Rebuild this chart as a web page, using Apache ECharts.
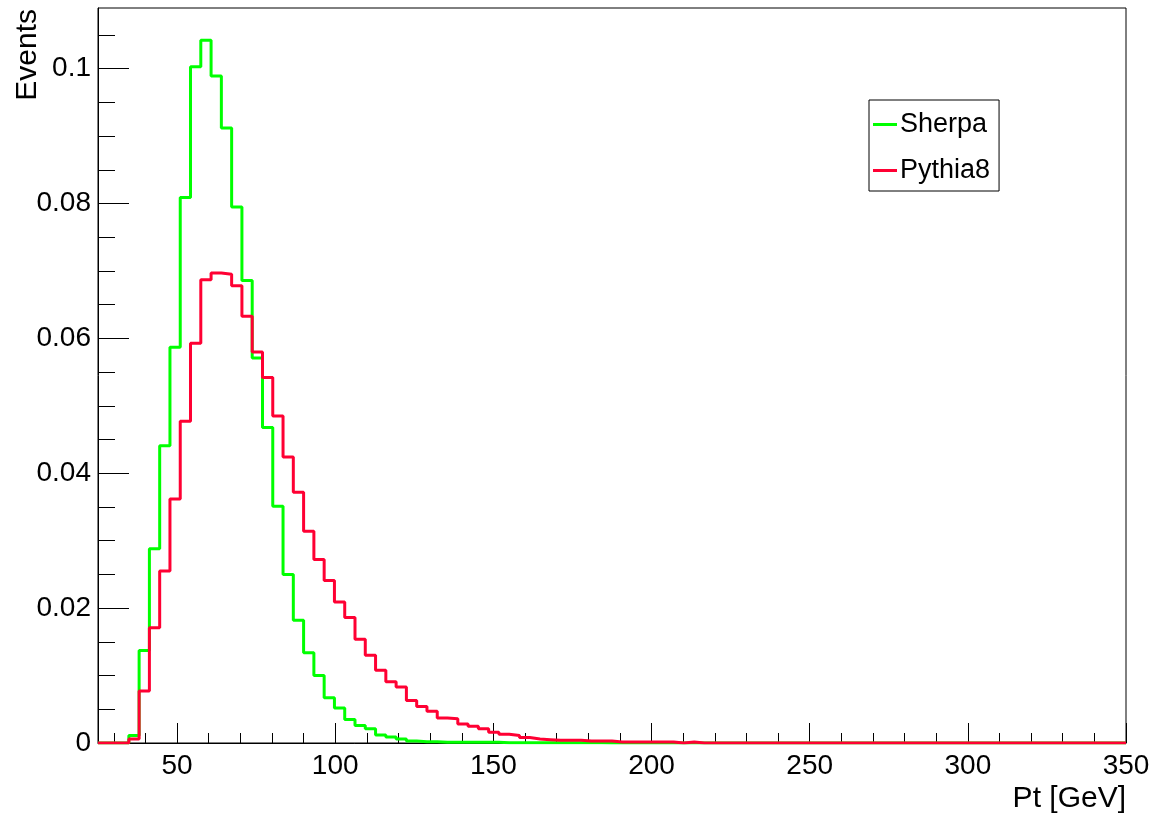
<!DOCTYPE html>
<html>
<head>
<meta charset="utf-8">
<script src="https://cdn.jsdelivr.net/npm/echarts@6/dist/echarts.min.js"></script>
<style>
html, body { margin: 0; padding: 0; background: #fff; }
#chart { width: 1157px; height: 818px; }
</style>
</head>
<body>
<div id="chart"></div>
<script>
// Histogram binning (100 bins from 25 to 350 GeV)
const xMin = 25;
const xMax = 350;
const binWidth = 3.25;

// Bin contents (bin 0 starts at 25 GeV)
const sherpa = [
  0, 0, 0, 0.0011, 0.0137, 0.0288, 0.0441, 0.0587, 0.0809, 0.1003,
  0.1042, 0.0989, 0.0912, 0.0795, 0.0686, 0.0571, 0.0468, 0.0351, 0.0250, 0.0182,
  0.0134, 0.0100, 0.0067, 0.0052, 0.0035, 0.0026, 0.0021, 0.0012, 0.0009, 0.0006,
  0.0003, 0.0002, 0.0002, 0.0001, 0.0001, 0.0001, 0.0001, 0.0001, 0.0001, 0.00005,
  0.00005, 0.00005, 0.00005, 0.00005, 0.00005, 0.00005, 0.00005, 0.00005, 0.00005, 0,
  0, 0, 0, 0, 0, 0, 0, 0, 0, 0,
  0, 0, 0, 0, 0, 0, 0, 0, 0, 0,
  0, 0, 0, 0, 0, 0, 0, 0, 0, 0,
  0, 0, 0, 0, 0, 0, 0, 0, 0, 0,
  0, 0, 0, 0, 0, 0, 0, 0, 0, 0
];
const pythia8 = [
  0, 0, 0, 0.0006, 0.0077, 0.0171, 0.0255, 0.0362, 0.0477, 0.0593,
  0.0687, 0.0697, 0.0695, 0.0678, 0.0633, 0.0580, 0.0542, 0.0485, 0.0424, 0.0372,
  0.0314, 0.0272, 0.0241, 0.0209, 0.0186, 0.0154, 0.0130, 0.0108, 0.0091, 0.0083,
  0.0063, 0.0054, 0.0047, 0.0037, 0.0036, 0.0028, 0.0025, 0.0021, 0.0016, 0.0013,
  0.0011, 0.0008, 0.0006, 0.0005, 0.0004, 0.0004, 0.0004, 0.0003, 0.0003, 0.0003,
  0.00015, 0.00015, 0.00015, 0.00015, 0.00015, 0.00015, 0, 0.00015, 0, 0,
  0, 0, 0, 0, 0, 0, 0, 0, 0, 0,
  0, 0, 0, 0, 0, 0, 0, 0, 0, 0,
  0, 0, 0, 0, 0, 0, 0, 0, 0, 0,
  0, 0, 0, 0, 0, 0, 0, 0, 0, 0
];

const seriesNames = ['Sherpa', 'Pythia8'];
const xMajorTicks = [50, 100, 150, 200, 250, 300, 350];
const xMinorTicks = [30, 40, 60, 70, 80, 90, 110, 120, 130, 140, 160, 170, 180, 190,
  210, 220, 230, 240, 260, 270, 280, 290, 310, 320, 330, 340];
const yMajorTicks = [0, 0.02, 0.04, 0.06, 0.08, 0.1];
const yMinorTicks = [0.005, 0.01, 0.015, 0.025, 0.03, 0.035, 0.045, 0.05, 0.055,
  0.065, 0.07, 0.075, 0.085, 0.09, 0.095, 0.105];
const yMax = 0.109;

function stepData(values) {
  const pts = values.map((v, i) => [xMin + i * binWidth, v]);
  pts.push([xMax, values[values.length - 1]]);
  return pts;
}

const FONT = 'Liberation Sans';
const chart = echarts.init(document.getElementById('chart'), null, { renderer: 'canvas' });

const tickStyle = { color: '#000', width: 1 };

chart.setOption({
  animation: false,
  backgroundColor: '#fff',
  grid: {
    left: 98, right: 31, top: 8, bottom: 75,
    show: true, borderColor: '#000', borderWidth: 1, backgroundColor: 'transparent'
  },
  legend: {
    data: seriesNames,
    orient: 'vertical',
    left: 869, top: 100,
    padding: [11, 9, 7, 4],
    itemGap: 19,
    itemWidth: 24, itemHeight: 3,
    icon: 'rect',
    borderColor: '#000', borderWidth: 1,
    backgroundColor: '#fff',
    textStyle: { fontFamily: FONT, fontSize: 27, color: '#000', padding: [3, 0, 0, -2] }
  },
  xAxis: [
    {
      type: 'value', min: xMin, max: xMax, position: 'bottom',
      axisLine: { show: true, lineStyle: { color: '#000', width: 1 } },
      axisTick: { show: true, inside: true, length: 20, customValues: xMajorTicks, lineStyle: tickStyle },
      axisLabel: { show: true, customValues: xMajorTicks, margin: 9, fontFamily: FONT, fontSize: 28, color: '#000' },
      splitLine: { show: false }
    },
    {
      type: 'value', min: xMin, max: xMax, position: 'bottom',
      axisLine: { show: false },
      axisTick: { show: true, inside: true, length: 10, customValues: xMinorTicks, lineStyle: tickStyle },
      axisLabel: { show: false },
      splitLine: { show: false }
    }
  ],
  yAxis: [
    {
      type: 'value', min: 0, max: yMax, position: 'left',
      axisLine: { show: true, lineStyle: { color: '#000', width: 1 } },
      axisTick: { show: true, inside: true, length: 31, customValues: yMajorTicks, lineStyle: tickStyle },
      axisLabel: { show: true, customValues: yMajorTicks, margin: 7, fontFamily: FONT, fontSize: 28, color: '#000' },
      splitLine: { show: false }
    },
    {
      type: 'value', min: 0, max: yMax, position: 'left',
      axisLine: { show: false },
      axisTick: { show: true, inside: true, length: 17, customValues: yMinorTicks, lineStyle: tickStyle },
      axisLabel: { show: false },
      splitLine: { show: false }
    }
  ],
  graphic: [
    {
      type: 'text', x: 13, y: 9, rotation: Math.PI / 2,
      style: { text: 'Events', font: '30px "Liberation Sans"', fill: '#000', textAlign: 'right', textVerticalAlign: 'top' }
    },
    {
      type: 'text', x: 1126, y: 784,
      style: { text: 'Pt [GeV]', font: '30px "Liberation Sans"', fill: '#000', textAlign: 'right', textVerticalAlign: 'top' }
    }
  ],
  series: [
    {
      name: seriesNames[0], type: 'line', step: 'end', xAxisIndex: 0, yAxisIndex: 0,
      data: stepData(sherpa), showSymbol: false, symbol: 'none',
      lineStyle: { color: '#00ff00', width: 3 }, itemStyle: { color: '#00ff00' }
    },
    {
      name: seriesNames[1], type: 'line', step: 'end', xAxisIndex: 0, yAxisIndex: 0,
      data: stepData(pythia8), showSymbol: false, symbol: 'none',
      lineStyle: { color: '#ff0033', width: 3 }, itemStyle: { color: '#ff0033' }
    }
  ]
});
</script>
</body>
</html>
